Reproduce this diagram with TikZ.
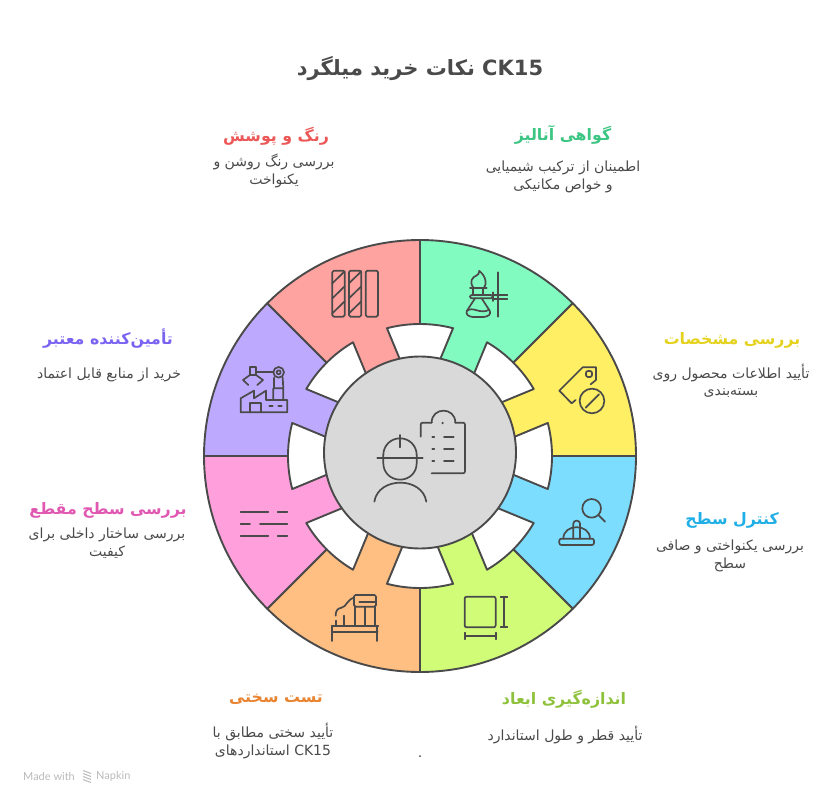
\documentclass[tikz,border=0pt]{standalone}
\usepackage{fontspec}
\newfontfamily\fafont[Script=Arabic]{DejaVu Sans}
\newfontfamily\markfont{Lato}
\TeXXeTstate=1
\definecolor{ink}{HTML}{4A4A4A}
\definecolor{segGreen}{HTML}{82FBC1}
\definecolor{segYellow}{HTML}{FFEF64}
\definecolor{segBlue}{HTML}{7CDDFF}
\definecolor{segLime}{HTML}{D0FC78}
\definecolor{segOrange}{HTML}{FFBE82}
\definecolor{segPink}{HTML}{FFA0DC}
\definecolor{segPurple}{HTML}{BDAAFF}
\definecolor{segRed}{HTML}{FFA3A0}
\definecolor{txtGreen}{HTML}{3CC583}
\definecolor{txtYellow}{HTML}{E4D21E}
\definecolor{txtBlue}{HTML}{1FAFE6}
\definecolor{txtLime}{HTML}{8FC23C}
\definecolor{txtOrange}{HTML}{E88432}
\definecolor{txtPink}{HTML}{E058B2}
\definecolor{txtPurple}{HTML}{7B63F2}
\definecolor{txtRed}{HTML}{EC5757}
\newcommand{\rtl}[1]{\beginR #1\endR}
\newcommand{\wheelseg}[2]{
\draw[segline, fill=#2] (#1+22.5:216) arc[start angle=#1+22.5, end angle=#1-22.5, radius=216]
  -- (#1-22.5:132) arc[start angle=#1-22.5, end angle=#1-8, radius=132]
  -- (#1-12.5:85) -- (#1+12.5:85) -- (#1+8:132)
  arc[start angle=#1+8, end angle=#1+22.5, radius=132] -- cycle;
}
\tikzset{
  segline/.style={draw=ink, line width=1.9pt, line join=round},
  iconline/.style={draw=ink, line width=1.7pt, line join=round, line cap=round},
  zoomed/.style={shift={#1}, x=.3333pt, y=-.3333pt},
  headtext/.style={inner sep=0pt, text=ink, font=\fafont\bfseries\fontsize{21}{26}\selectfont},
  itemtitle/.style={inner sep=0pt, text=#1, font=\fafont\bfseries\fontsize{15.8}{19}\selectfont},
  itemtext/.style={inner sep=0pt, text=ink, align=center, font=\fafont\fontsize{14}{17.5}\selectfont},
  marktext/.style={inner sep=0pt, text=black!27, font=\markfont\fontsize{11}{13}\selectfont}
}
\begin{document}
\begin{tikzpicture}[x=1pt, y=-1pt]
\useasboundingbox (0,0) rectangle (840,805);

\begin{scope}[shift={(420,456)}, y=1pt]
\wheelseg{67.5}{segGreen}
\wheelseg{22.5}{segYellow}
\wheelseg{-22.5}{segBlue}
\wheelseg{-67.5}{segLime}
\wheelseg{-112.5}{segOrange}
\wheelseg{-157.5}{segPink}
\wheelseg{157.5}{segPurple}
\wheelseg{112.5}{segRed}
\end{scope}
\draw[segline, fill=black!15] (420,452.5) circle (96);

\begin{scope}[zoomed={(200,235)}]
\foreach \x in {397,447,497}
  \draw[iconline, rounded corners=1.5pt] (\x,107) rectangle (\x+37,245);
\foreach \x in {397,447}
  \foreach \y in {145,190,235}
    \draw[iconline] (\x,\y) -- (\x+37,\y-36);
\draw[iconline] (122,532) -- (122,490) -- (162,467) -- (162,490) -- (198,467) -- (198,495) -- (262,495) -- (262,532) -- cycle;
\draw[iconline] (150,532) -- (150,505) -- (182,505) -- (182,532);
\draw[iconline] (208,514) -- (218,514) (235,514) -- (245,514);
\draw[iconline] (220,495) -- (220,460) -- (250,460) -- (250,495) (222,460) -- (222,428) (250,460) -- (248,428);
\draw[iconline] (236,412) circle (16) (236,412) circle (6);
\draw[iconline] (220,412) -- (168,412);
\draw[iconline] (150,420) -- (150,397) -- (168,397) -- (168,420) -- cycle;
\draw[iconline] (150,420) -- (129,435) -- (145,450) (168,420) -- (189,435) -- (172,450);
\end{scope}

\begin{scope}[zoomed={(420,235)}]
\draw[iconline] (178,108) .. controls (200,125) and (200,150) .. (192,158);
\draw[iconline] (178,108) .. controls (178,125) and (160,120) .. (155,135) .. controls (153,147) and (156,154) .. (160,158);
\draw[iconline] (150,160) -- (200,160) (160,160) -- (160,180) (190,160) -- (190,180);
\draw[iconline, rounded corners=2pt] (150,180) rectangle (218,190);
\draw[iconline] (235,112) -- (235,245) (218,180) -- (262,180) (218,192) -- (262,192) (218,172) -- (218,198);
\draw[iconline, rounded corners=3pt] (165,190) -- (136,235) -- (150,246) -- (200,246) -- (214,235) -- (185,190);
\draw[iconline] (140,228) .. controls (160,212) and (180,240) .. (208,224);
\draw[iconline] (467,495) -- (455,505) -- (418,467) -- (488,397) -- (528,397) -- (528,435) -- (512,448);
\draw[iconline, rounded corners=2pt] (498,408) rectangle (516,426);
\draw[iconline] (516,498) circle (37) (497,518) -- (537,478);
\end{scope}

\begin{scope}[zoomed={(420,455)}]
\draw[iconline] (515,160) circle (28) (535,180) -- (555,200);
\draw[iconline, rounded corners=2pt] (418,251) rectangle (522,270);
\draw[iconline] (430,251) .. controls (430,205) and (510,205) .. (510,251);
\draw[iconline, rounded corners=3pt] (460,251) -- (460,197) -- (480,197) -- (480,251);
\draw[iconline, rounded corners=2pt] (134,425) rectangle (227,517);
\draw[iconline] (252,425) -- (252,517) (242,425) -- (262,425) (242,517) -- (262,517);
\draw[iconline] (134,543) -- (227,543) (134,533) -- (134,553) (227,533) -- (227,553);
\end{scope}

\begin{scope}[zoomed={(200,455)}]
\draw[iconline] (122,170) -- (205,170) (233,170) -- (262,170);
\draw[iconline] (122,207) -- (150,207) (180,207) -- (262,207);
\draw[iconline] (122,243) -- (205,243) (233,243) -- (262,243);
\draw[iconline] (397,512) -- (535,512) (397,530) -- (533,530) (397,512) -- (397,558) (532,512) -- (532,558);
\draw[iconline, rounded corners=1.5pt] (462,420) rectangle (528,455);
\draw[iconline] (478,440) -- (528,440) (465,455) -- (465,512) (495,455) -- (495,512) (525,455) -- (525,512);
\draw[iconline] (462,428) .. controls (440,435) and (440,455) .. (425,458) .. controls (412,460) and (407,468) .. (407,482);
\draw[iconline] (407,497) -- (407,512) (433,482) -- (433,512);
\end{scope}

\begin{scope}[zoomed={(350,385)}]
\draw[iconline] (100,210) -- (100,235) .. controls (100,263) and (122,284) .. (150,284) .. controls (178,284) and (200,263) .. (200,235) -- (200,210);
\draw[iconline] (100,210) .. controls (100,182) and (122,160) .. (150,160) .. controls (178,160) and (200,182) .. (200,210);
\draw[iconline] (150,150) -- (150,187) (82,220) -- (218,220);
\draw[iconline] (73,350) .. controls (85,274) and (217,274) .. (229,350);
\draw[iconline, rounded corners=2pt] (212,155) -- (212,113) -- (245,113);
\draw[iconline] (245,113) .. controls (245,65) and (316,65) .. (316,113);
\draw[iconline, rounded corners=2pt] (316,113) -- (345,113) -- (345,265) -- (245,265);
\fill[ink] (278,114) circle (4);
\foreach \y in {156,192,228}
  \draw[iconline] (247,\y) -- (253,\y) (282,\y) -- (311,\y);
\end{scope}

\node[headtext] (head) at (420,69) {\rtl{\beginL CK15\endL{} نکات خرید میلگرد}};

\node[itemtitle=txtGreen] (gavahi) at (563,135) {\rtl{گواهی آنالیز}};
\node[itemtext] (gavahi text) at (563,177) {\rtl{اطمینان از ترکیب شیمیایی}\\\rtl{و خواص مکانیکی}};

\node[itemtitle=txtRed] (rang) at (276,136) {\rtl{رنگ و پوشش}};
\node[itemtext] (rang text) at (274,171) {\rtl{بررسی رنگ روشن و}\\\rtl{یکنواخت}};

\node[itemtitle=txtYellow] (moshakhasat) at (732,340) {\rtl{بررسی مشخصات}};
\node[itemtext] (moshakhasat text) at (731,381) {\rtl{تأیید اطلاعات محصول روی}\\\rtl{بسته^^^^200cبندی}};

\node[itemtitle=txtBlue] (sath) at (732,520) {\rtl{کنترل سطح}};
\node[itemtext] (sath text) at (730,556) {\rtl{بررسی یکنواختی و صافی}\\\rtl{سطح}};

\node[itemtitle=txtLime] (abaad) at (564,699) {\rtl{اندازه^^^^200cگیری ابعاد}};
\node[itemtext] (abaad text) at (565,735) {\rtl{تأیید قطر و طول استاندارد}};

\node[itemtitle=txtOrange] (sakhti) at (276,699) {\rtl{تست سختی}};
\node[itemtext] (sakhti text) at (273,741) {\rtl{تأیید سختی مطابق با}\\\rtl{\beginL CK15\endL{} استانداردهای}};

\node[itemtitle=txtPink] (maghta) at (108,510) {\rtl{بررسی سطح مقطع}};
\node[itemtext] (maghta text) at (107,543) {\rtl{بررسی ساختار داخلی برای}\\\rtl{کیفیت}};

\node[itemtitle=txtPurple] (tamin) at (108,339) {\rtl{تأمین^^^^200cکننده معتبر}};
\node[itemtext] (tamin text) at (109,375) {\rtl{خرید از منابع قابل اعتماد}};

\fill[ink] (420,756) circle (1);

\node[marktext, anchor=west] (made) at (23,776) {Made with};
\node[marktext, anchor=west] (napkin) at (96,776) {Napkin};
\foreach \y in {772,775,778,781}
  \draw[black!27, line width=1pt] (83,\y-1.5) -- (91,\y+1.5);
\end{tikzpicture}
\end{document}
